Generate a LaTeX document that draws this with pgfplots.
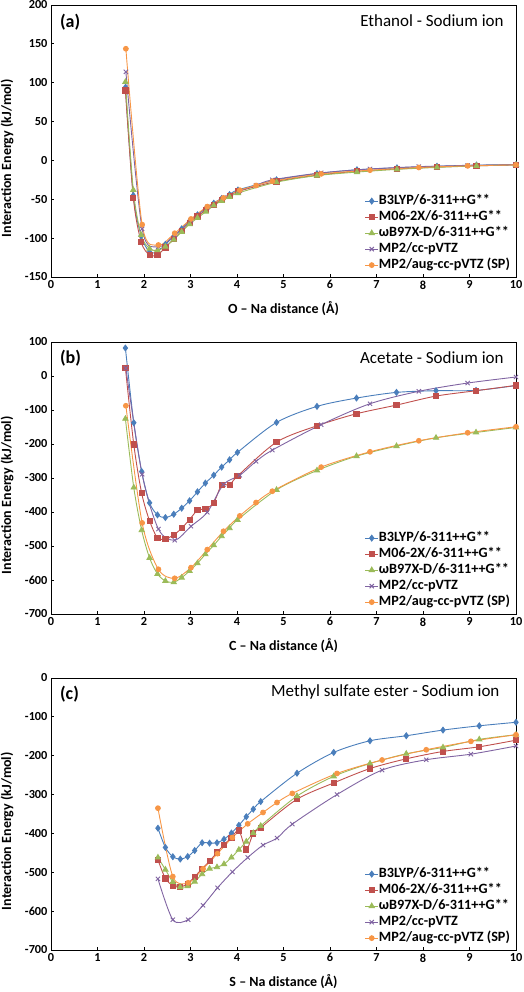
\documentclass[border=0pt]{standalone}
\usepackage{fontspec}
\setmainfont{Carlito}
\usepackage{pgfplots}
\pgfplotsset{compat=1.18}
\definecolor{cB}{HTML}{4A7EBB}
\definecolor{cR}{HTML}{C0504D}
\definecolor{cG}{HTML}{9BBB59}
\definecolor{cP}{HTML}{8064A2}
\definecolor{cO}{HTML}{F79646}
\tikzset{
  ttl/.style={anchor=east, font=\fontsize{17}{19}\selectfont},
  pl/.style={anchor=west, font=\bfseries\fontsize{18}{20}\selectfont},
}
\pgfplotsset{
  panel/.style={
    scale only axis, width=465pt, height=272pt,
    xmin=0, xmax=10, xtick={0,1,...,10},
    tick align=inside, major tick length=3pt,
    xtick pos=bottom, ytick pos=left,
    tick style={black, line width=0.8pt},
    axis line style={black, line width=0.9pt},
    ticklabel style={font=\bfseries\fontsize{12.3}{14}\selectfont},
    /pgf/number format/assume math mode=true,
    label style={font=\bfseries\fontsize{14}{16}\selectfont},
    ylabel={Interaction Energy (kJ/mol)},
    y label style={at={(axis description cs:-0.0946,0.437)}, anchor=center},
    x label style={at={(axis description cs:0.5,-0.115)}, anchor=center, inner sep=1pt},
    legend style={at={(0.995,0.008)}, anchor=south east, draw=none, fill=none,
      font=\bfseries\fontsize{14.2}{16}\selectfont, row sep=1pt,
      nodes={inner sep=0.5pt, text height=10.5pt, text depth=3.5pt}},
    legend cell align=left,
    legend image code/.code={\draw[mark repeat=2,mark phase=2] plot coordinates {(0cm,0cm) (0.22cm,0cm) (0.44cm,0cm)};},
  },
  sB/.style={color=cB, line width=0.9pt, smooth, mark=diamond*, mark size=2.9pt, mark options={solid}},
  sR/.style={color=cR, line width=0.9pt, smooth, mark=square*, mark size=2.6pt, mark options={solid}},
  sG/.style={color=cG, line width=0.9pt, smooth, mark=triangle*, mark size=3pt, mark options={solid}},
  sP/.style={color=cP, line width=0.9pt, smooth, mark=x, mark size=3pt, mark options={solid}},
  sO/.style={color=cO, line width=0.9pt, smooth, mark=*, mark size=2.4pt, mark options={solid}},
}
\begin{document}
\begin{tikzpicture}[x=1pt,y=1pt]
\useasboundingbox (0,0) rectangle (523,-992);
% ---------------- (a)
\begin{axis}[panel, at={(51pt,-5pt)}, anchor=north west,
  ymin=-150, ymax=200, ytick={-150,-100,...,200},
  xlabel={O – Na distance (Å)}]
\addplot[sB] coordinates {(1.60,94) (1.77,-45) (1.94,-97) (2.12,-118) (2.29,-117) (2.46,-108) (2.64,-98) (2.81,-88) (2.98,-78) (3.15,-70) (3.33,-62) (3.50,-55) (3.67,-49) (3.84,-44) (4.02,-38) (4.85,-25) (5.72,-17) (6.58,-12) (7.44,-9.5) (8.30,-7.5) (9.15,-6) (10,-5.5)};
\addlegendentry{B3LYP/6-311++G**}
\addplot[sR] coordinates {(1.60,90) (1.77,-48) (1.94,-105) (2.12,-121.7) (2.29,-121.5) (2.46,-112) (2.64,-101) (2.81,-91) (2.98,-80) (3.15,-72) (3.33,-64) (3.50,-57) (3.67,-51) (3.84,-46) (4.02,-40) (4.85,-27) (5.72,-19) (6.58,-14) (7.44,-11) (8.30,-8.5) (9.15,-7) (10,-5.7)};
\addlegendentry{M06-2X/6-311++G**}
\addplot[sG] coordinates {(1.60,101) (1.77,-38) (1.94,-96) (2.12,-113.5) (2.29,-115.6) (2.46,-111) (2.64,-102) (2.81,-92) (2.98,-82) (3.15,-74) (3.33,-66) (3.50,-58) (3.67,-52) (3.84,-47) (4.02,-42) (4.85,-28) (5.72,-19.5) (6.58,-15) (7.44,-11.5) (8.30,-9) (9.15,-7) (10,-5.7)};
\addlegendentry{ωB97X-D/6-311++G**}
\addplot[sP] coordinates {(1.61,114) (1.96,-88) (2.31,-111) (2.66,-96) (3.01,-77) (3.36,-60) (3.71,-48) (4.06,-39) (4.41,-32) (4.76,-25) (5.81,-16) (6.86,-11) (7.91,-8) (8.96,-6.5) (10,-5.5)};
\addlegendentry{MP2/cc-pVTZ}
\addplot[sO] coordinates {(1.61,143.7) (1.96,-82.6) (2.31,-108.8) (2.66,-93.7) (3.01,-75.3) (3.36,-59.4) (3.71,-48.2) (4.06,-38.3) (4.41,-32.3) (4.76,-26.7) (5.81,-17.3) (6.86,-12.6) (7.91,-9.1) (8.96,-7) (10,-5.7)};
\addlegendentry{MP2/aug-cc-pVTZ (SP)}
\node[ttl] at (rel axis cs:0.981,0.942) {Ethanol - Sodium ion};
\node[pl] at (rel axis cs:0.012,0.935) {(a)};
\end{axis}
% ---------------- (b)
\begin{axis}[panel, at={(51pt,-342pt)}, anchor=north west,
  ymin=-700, ymax=100, ytick={-700,-600,...,100},
  xlabel={C – Na distance (Å)}]
\addplot[sB] coordinates {(1.60,82.3) (1.78,-137.5) (1.95,-280.9) (2.12,-373) (2.29,-408.5) (2.46,-416.3) (2.64,-406.5) (2.81,-388.8) (2.98,-367) (3.15,-340.7) (3.32,-315) (3.50,-291.7) (3.67,-268) (3.84,-246.5) (4.01,-224.7) (4.85,-136.6) (5.72,-89.4) (6.57,-64.9) (7.43,-48.2) (8.28,-43.3) (9.14,-42.3) (10,-28)};
\addlegendentry{B3LYP/6-311++G**}
\addplot[sR] coordinates {(1.60,23.4) (1.78,-201.3) (1.95,-344.7) (2.12,-426) (2.29,-476.2) (2.46,-479) (2.64,-467.4) (2.81,-447.7) (2.98,-422.2) (3.15,-394.7) (3.32,-390.8) (3.50,-373.1) (3.67,-320) (3.84,-321) (4.01,-294.6) (4.85,-194.5) (5.72,-146.4) (6.57,-111) (7.43,-85.5) (8.28,-59) (9.14,-43.3) (10,-27.6)};
\addlegendentry{M06-2X/6-311++G**}
\addplot[sG] coordinates {(1.60,-125.8) (1.78,-328) (1.95,-453.6) (2.12,-535) (2.29,-582.2) (2.46,-602.8) (2.64,-606.7) (2.81,-593) (2.98,-573.4) (3.15,-550.8) (3.32,-524.3) (3.50,-497.8) (3.67,-471.3) (3.84,-447.7) (4.01,-423.2) (4.85,-334.8) (5.72,-277.9) (6.57,-235.7) (7.43,-206.2) (8.28,-181.7) (9.14,-166) (10,-151.3)};
\addlegendentry{ωB97X-D/6-311++G**}
\addplot[sP] coordinates {(1.61,23) (1.96,-289) (2.31,-450) (2.66,-483) (3.01,-442) (3.36,-401) (3.71,-319) (4.06,-292) (4.41,-251) (4.76,-218) (5.81,-143) (6.86,-81.6) (7.91,-45) (8.96,-20.7) (10,-3)};
\addlegendentry{MP2/cc-pVTZ}
\addplot[sO] coordinates {(1.61,-87.5) (1.96,-432) (2.31,-568.5) (2.66,-595) (3.01,-563.6) (3.36,-510.6) (3.71,-456.6) (4.06,-411.4) (4.41,-372.1) (4.76,-338.8) (5.81,-268) (6.86,-223) (7.91,-190.5) (8.96,-167) (10,-149.3)};
\addlegendentry{MP2/aug-cc-pVTZ (SP)}
\node[ttl] at (rel axis cs:0.981,0.944) {Acetate - Sodium ion};
\node[pl] at (rel axis cs:0.012,0.94) {(b)};
\end{axis}
% ---------------- (c)
\begin{axis}[panel, at={(51pt,-678pt)}, anchor=north west,
  ymin=-700, ymax=0, ytick={-700,-600,...,0},
  xlabel={S – Na distance (Å)}]
\addplot[sB] coordinates {(2.30,-386.5) (2.46,-436) (2.62,-460) (2.78,-466) (2.94,-459.5) (3.09,-444) (3.25,-424) (3.41,-425) (3.57,-424) (3.72,-415) (3.88,-399) (4.04,-379) (4.20,-357) (4.35,-337.5) (4.51,-318) (5.29,-245) (6.08,-191.5) (6.86,-161.5) (7.64,-148.6) (8.43,-134) (9.21,-123) (10,-114)};
\addlegendentry{B3LYP/6-311++G**}
\addplot[sR] coordinates {(2.30,-468) (2.46,-516) (2.62,-534) (2.78,-538) (2.94,-529) (3.09,-511) (3.25,-491) (3.41,-471) (3.57,-449) (3.72,-429) (3.88,-411) (4.04,-392.5) (4.20,-441) (4.35,-400) (4.51,-385) (5.29,-312) (6.08,-270) (6.86,-233) (7.64,-208) (8.43,-189) (9.21,-177) (10,-160)};
\addlegendentry{M06-2X/6-311++G**}
\addplot[sG] coordinates {(2.30,-462) (2.46,-493) (2.62,-525) (2.78,-538) (2.94,-536) (3.09,-524) (3.25,-505) (3.41,-490.5) (3.57,-487) (3.72,-479) (3.88,-462) (4.04,-442) (4.20,-421) (4.35,-399) (4.51,-380.5) (5.29,-304) (6.08,-253) (6.86,-220) (7.64,-195) (8.43,-178.6) (9.21,-158) (10,-146)};
\addlegendentry{ωB97X-D/6-311++G**}
\addplot[sP] coordinates {(2.30,-517) (2.62,-622) (2.95,-622) (3.27,-585) (3.58,-540) (3.90,-499) (4.23,-462) (4.56,-430) (4.86,-412) (5.19,-376) (6.15,-300) (7.12,-237) (8.07,-210.4) (9.03,-196) (10,-175)};
\addlegendentry{MP2/cc-pVTZ}
\addplot[sO] coordinates {(2.30,-335) (2.62,-511) (2.95,-527) (3.27,-491) (3.58,-452) (3.90,-410.6) (4.23,-375.3) (4.56,-346) (4.86,-320.4) (5.19,-297) (6.15,-245.6) (7.12,-211) (8.07,-184.7) (9.03,-163) (10,-146)};
\addlegendentry{MP2/aug-cc-pVTZ (SP)}
\node[ttl] at (rel axis cs:0.972,0.948) {Methyl sulfate ester - Sodium ion};
\node[pl] at (rel axis cs:0.012,0.941) {(c)};
\end{axis}
\end{tikzpicture}
\end{document}
